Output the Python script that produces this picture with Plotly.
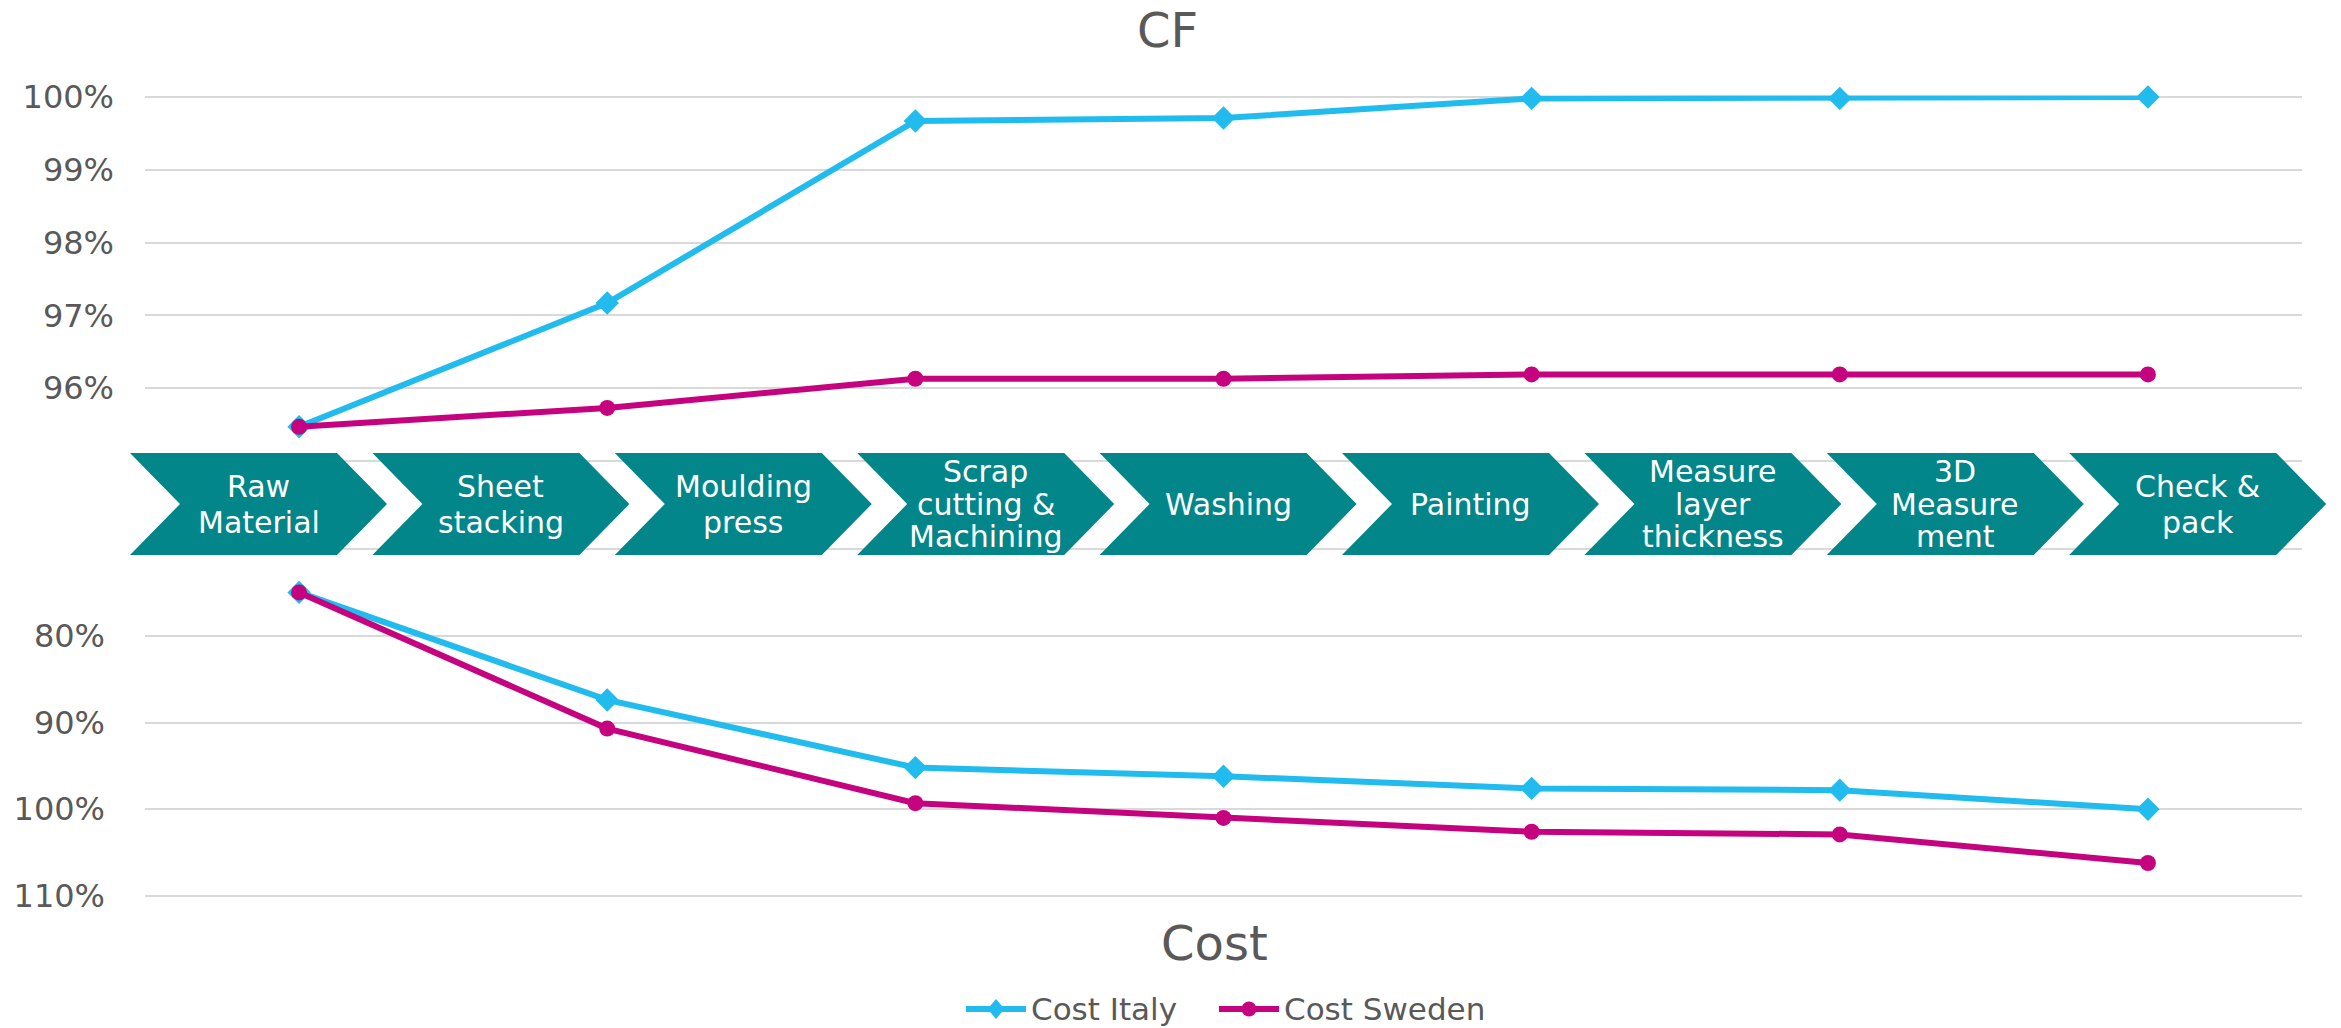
import plotly.graph_objects as go

# ---- data -------------------------------------------------------------
stage = [1, 2, 3, 4, 5, 6, 7]

cf_italy = [95.47, 97.17, 99.67, 99.71, 99.98, 99.98, 100.0]
cf_sweden = [95.47, 95.73, 96.13, 96.13, 96.19, 96.19, 96.19]

cost_italy = [75.0, 87.4, 95.2, 96.2, 97.6, 97.8, 100.0]
cost_sweden = [75.0, 90.7, 99.3, 101.0, 102.6, 102.9, 106.2]

cf_ticks = [95, 96, 97, 98, 99, 100]
cf_ticktext = ["", "96%", "97%", "98%", "99%", "100%"]
cost_ticks = [70, 80, 90, 100, 110]
cost_ticktext = ["", "80%", "90%", "100%", "110%"]

process_steps = [
    ["Raw", "Material"],
    ["Sheet", "stacking"],
    ["Moulding", "press"],
    ["Scrap", "cutting &", "Machining"],
    ["Washing"],
    ["Painting"],
    ["Measure", "layer", "thickness"],
    ["3D", "Measure", "ment"],
    ["Check &", "pack"],
]

legend_names = ["Cost Italy", "Cost Sweden"]

# ---- styling ----------------------------------------------------------
W, H = 2341, 1028
FONT = "DejaVu Sans"
GREY = "#595959"
GRID = "#D9D9D9"
BLUE = "#21BBEE"
MAGENTA = "#C6037E"
TEAL = "#02868A"


def px_x(p):
    return p / W


def px_y(p):
    return 1 - p / H


plot_left, plot_right = 145, 2302
x_dom = [px_x(plot_left), px_x(plot_right)]

# vertical placement of the two panels (pixel rows)
cf_lo, cf_hi, cf_top_px, cf_bot_px = 94.98, 100.02, 95.5, 462.5
cost_lo, cost_hi, cost_top_px, cost_bot_px = 69.8, 110.2, 547.3, 897.7

fig = go.Figure()

line_w = 6
dia_size, dot_size = 18, 16
fig.add_trace(go.Scatter(
    x=stage, y=cf_italy, name="CF Italy", mode="lines+markers",
    line=dict(color=BLUE, width=line_w),
    marker=dict(symbol="diamond", size=dia_size, color=BLUE),
    xaxis="x", yaxis="y", showlegend=False, cliponaxis=False))
fig.add_trace(go.Scatter(
    x=stage, y=cf_sweden, name="CF Sweden", mode="lines+markers",
    line=dict(color=MAGENTA, width=line_w),
    marker=dict(symbol="circle", size=dot_size, color=MAGENTA),
    xaxis="x", yaxis="y", showlegend=False, cliponaxis=False))
fig.add_trace(go.Scatter(
    x=stage, y=cost_italy, name=legend_names[0], mode="lines+markers",
    line=dict(color=BLUE, width=line_w),
    marker=dict(symbol="diamond", size=dia_size, color=BLUE),
    xaxis="x2", yaxis="y2", showlegend=False, cliponaxis=False))
fig.add_trace(go.Scatter(
    x=stage, y=cost_sweden, name=legend_names[1], mode="lines+markers",
    line=dict(color=MAGENTA, width=line_w),
    marker=dict(symbol="circle", size=dot_size, color=MAGENTA),
    xaxis="x2", yaxis="y2", showlegend=False, cliponaxis=False))

shapes = []
annotations = []

# ---- process chevrons -------------------------------------------------
chev_left0, chev_step, chev_w, chev_notch = 130, 242.4, 257, 50
chev_top, chev_bot = 453, 555
chev_mid = (chev_top + chev_bot) / 2


def path_of(pts):
    return "M " + " L ".join(f"{px_x(x):.6f},{px_y(y):.6f}" for x, y in pts) + " Z"


for i, lines in enumerate(process_steps):
    l = chev_left0 + i * chev_step
    r = l + chev_w
    pts = [
        (l, chev_top), (r - chev_notch, chev_top), (r, chev_mid),
        (r - chev_notch, chev_bot), (l, chev_bot), (l + chev_notch, chev_mid),
    ]
    shapes.append(dict(type="path", path=path_of(pts), xref="paper", yref="paper",
                       fillcolor=TEAL, line=dict(width=0), layer="above"))
    cx = (l + r) / 2
    n = len(lines)
    spacing = 36 if n == 2 else 32
    for k, txt in enumerate(lines):
        cy = chev_mid + (k - (n - 1) / 2) * spacing
        annotations.append(dict(
            x=px_x(cx), y=px_y(cy), xref="paper", yref="paper",
            text=txt, showarrow=False, xanchor="center", yanchor="middle",
            font=dict(family=FONT, size=30, color="white")))

# ---- chart titles -----------------------------------------------------
annotations.append(dict(x=px_x(1167), y=px_y(30), xref="paper", yref="paper",
                        text="CF", showarrow=False, xanchor="center", yanchor="middle",
                        font=dict(family=FONT, size=48, color=GREY)))
annotations.append(dict(x=px_x(1214), y=px_y(943), xref="paper", yref="paper",
                        text="Cost", showarrow=False, xanchor="center", yanchor="middle",
                        font=dict(family=FONT, size=48, color=GREY)))

# ---- legend (line + marker key, then label) ---------------------------
leg_y = 1009
leg_items = [(966, BLUE, "diamond"), (1219, MAGENTA, "circle")]
for (x0, col, sym), name in zip(leg_items, legend_names):
    x1 = x0 + 60
    shapes.append(dict(type="line", xref="paper", yref="paper",
                       x0=px_x(x0), x1=px_x(x1), y0=px_y(leg_y), y1=px_y(leg_y),
                       line=dict(color=col, width=line_w)))
    cx = (x0 + x1) / 2
    if sym == "diamond":
        d = 10
        shapes.append(dict(type="path", xref="paper", yref="paper",
                           path=path_of([(cx, leg_y - d), (cx + d * 0.85, leg_y),
                                         (cx, leg_y + d), (cx - d * 0.85, leg_y)]),
                           fillcolor=col, line=dict(width=0)))
    else:
        rr = 7.5
        shapes.append(dict(type="circle", xref="paper", yref="paper",
                           x0=px_x(cx - rr), x1=px_x(cx + rr),
                           y0=px_y(leg_y + rr), y1=px_y(leg_y - rr),
                           fillcolor=col, line=dict(width=0)))
    annotations.append(dict(x=px_x(x1 + 3), y=px_y(leg_y), xref="paper", yref="paper",
                            text=name, showarrow=False, xanchor="left", yanchor="middle",
                            font=dict(family=FONT, size=31, color=GREY)))

axis_x = dict(range=[0.5, 7.5], domain=x_dom, showticklabels=False,
              showgrid=False, zeroline=False, showline=False, ticks="",
              fixedrange=True)

fig.update_layout(
    width=W, height=H,
    margin=dict(l=0, r=0, t=0, b=0, autoexpand=False),
    paper_bgcolor="white", plot_bgcolor="white",
    font=dict(family=FONT, color=GREY),
    xaxis=dict(**axis_x, anchor="y"),
    xaxis2=dict(**axis_x, anchor="y2"),
    yaxis=dict(domain=[px_y(cf_bot_px), px_y(cf_top_px)], range=[cf_lo, cf_hi],
               tickvals=cf_ticks, ticktext=cf_ticktext,
               showgrid=True, gridcolor=GRID, gridwidth=2,
               zeroline=False, showline=False, ticks="",
               tickfont=dict(family=FONT, size=32, color=GREY),
               ticklabelstandoff=30, automargin=False, anchor="x"),
    yaxis2=dict(domain=[px_y(cost_bot_px), px_y(cost_top_px)], range=[cost_hi, cost_lo],
                tickvals=cost_ticks, ticktext=cost_ticktext,
                showgrid=True, gridcolor=GRID, gridwidth=2,
                zeroline=False, showline=False, ticks="",
                tickfont=dict(family=FONT, size=32, color=GREY),
                ticklabelstandoff=39, automargin=False, anchor="x2"),
    shapes=shapes,
    annotations=annotations,
    showlegend=False,
)

fig.write_html("out.html")
